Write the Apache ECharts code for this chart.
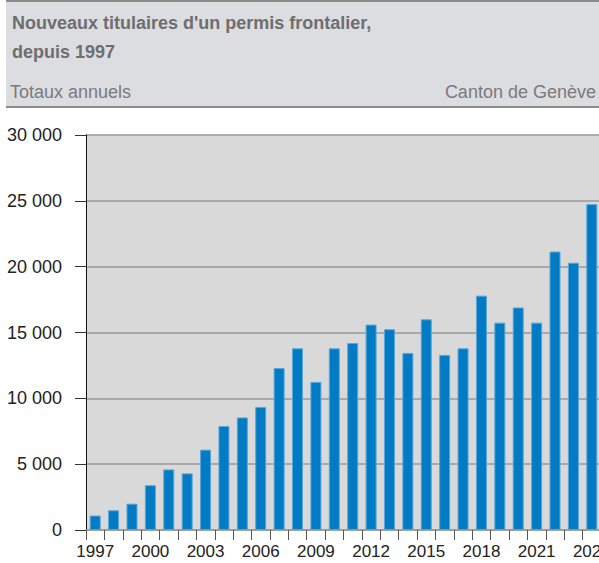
<!DOCTYPE html>
<html>
<head>
<meta charset="utf-8">
<script src="https://cdn.jsdelivr.net/npm/echarts@6/dist/echarts.min.js"></script>
<style>
  html, body { margin: 0; padding: 0; background: #fff; }
  #chart { width: 599px; height: 563px; }
</style>
</head>
<body>
<div id="chart"></div>
<script>
var years = ['1997', '1998', '1999', '2000', '2001', '2002', '2003', '2004', '2005', '2006',
  '2007', '2008', '2009', '2010', '2011', '2012', '2013', '2014', '2015', '2016',
  '2017', '2018', '2019', '2020', '2021', '2022', '2023', '2024'];
var newPermits = [1100, 1500, 2000, 3400, 4600, 4300, 6100, 7900, 8550, 9350,
  12300, 13800, 11250, 13800, 14200, 15600, 15250, 13450, 16000, 13300,
  13800, 17800, 15750, 16900, 15750, 21150, 20300, 24750];
var yTicks = [0, 5000, 10000, 15000, 20000, 25000, 30000];

var titleLines = ["Nouveaux titulaires d'un permis frontalier,", 'depuis 1997'];
var subLeft = 'Totaux annuels';
var subRight = 'Canton de Genève';

var font = '"Liberation Sans", Arial, sans-serif';
var blue = '#007bc4';

function spaced(v) {
  return String(v).replace(/\B(?=(\d{3})+(?!\d))/g, ' ');
}

var chart = echarts.init(document.getElementById('chart'), null, { renderer: 'svg' });
chart.setOption({
  animation: false,
  textStyle: { fontFamily: font },
  graphic: [
    { type: 'rect', shape: { x: 6, y: 0, width: 600, height: 107 }, style: { fill: '#dcdde0' }, silent: true },
    { type: 'line', shape: { x1: 6, y1: 1, x2: 600, y2: 1 }, style: { stroke: '#8a8a8a', lineWidth: 2 }, silent: true },
    { type: 'line', shape: { x1: 6, y1: 107, x2: 600, y2: 107 }, style: { stroke: '#8a8a8a', lineWidth: 2 }, silent: true },
    { type: 'text', x: 12, y: 23, style: { text: titleLines[0], font: 'bold 18px ' + font, fill: '#6e6e6e', verticalAlign: 'middle' } },
    { type: 'text', x: 12, y: 52, style: { text: titleLines[1], font: 'bold 18px ' + font, fill: '#6e6e6e', verticalAlign: 'middle' } },
    { type: 'text', x: 10, y: 92, style: { text: subLeft, font: '18px ' + font, fill: '#7a7a7a', verticalAlign: 'middle' } },
    { type: 'text', x: 596, y: 92, style: { text: subRight, font: '18px ' + font, fill: '#7a7a7a', align: 'right', verticalAlign: 'middle' } }
  ],
  grid: {
    left: 86, right: -2, top: 135, bottom: 33,
    outerBoundsMode: 'none',
    show: true, backgroundColor: '#d9d9d9', borderWidth: 0
  },
  xAxis: {
    type: 'category',
    data: years,
    axisLine: { lineStyle: { color: '#999', width: 1.5 } },
    axisTick: { show: true, interval: 0, length: 10, lineStyle: { color: '#555' } },
    axisLabel: { interval: 2, color: '#222', fontSize: 17, margin: 13, hideOverlap: false }
  },
  yAxis: {
    type: 'value',
    min: yTicks[0],
    max: yTicks[yTicks.length - 1],
    interval: 5000,
    axisLine: { show: true, lineStyle: { color: '#111', width: 1 } },
    axisTick: { show: true, length: 11, lineStyle: { color: '#333' } },
    axisLabel: { color: '#222', fontSize: 18, margin: 24, formatter: spaced },
    splitLine: { lineStyle: { color: '#999', width: 1.5 } }
  },
  series: [{
    type: 'bar',
    data: newPermits,
    barWidth: 11,
    itemStyle: { color: blue, borderColor: '#5aa6da', borderWidth: 1 }
  }]
});
</script>
</body>
</html>
